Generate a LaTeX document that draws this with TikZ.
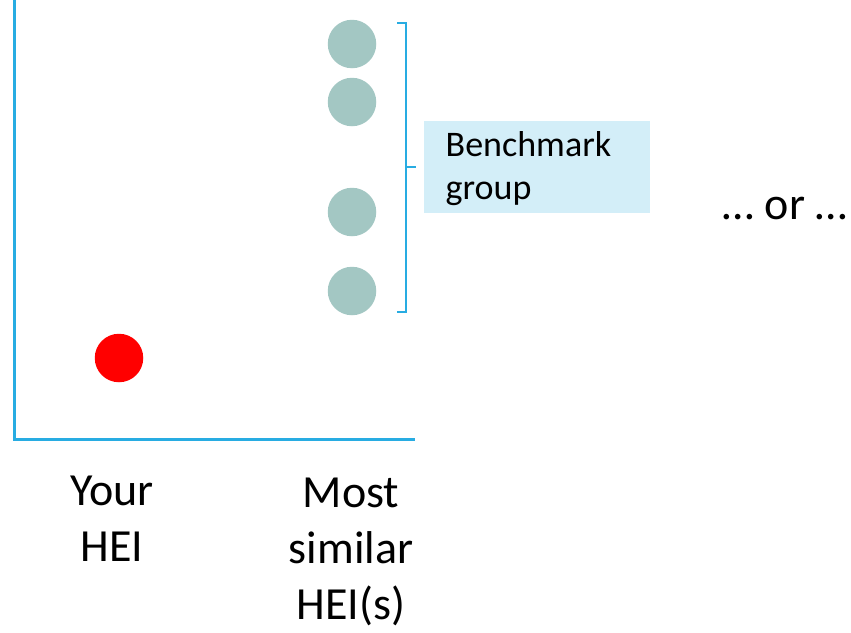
\documentclass[tikz,border=0pt]{standalone}
\usepackage{fontspec}
\setmainfont{Carlito}
\definecolor{axisblue}{RGB}{40,172,226}
\definecolor{peergrey}{RGB}{163,199,195}
\definecolor{boxfill}{RGB}{211,238,248}
\begin{document}
\begin{tikzpicture}[x=1pt,y=-1pt,
  dot/.style={circle,inner sep=0pt,minimum size=48.5pt},
  peer/.style={dot,fill=peergrey},
  axisline/.style={axisblue,line width=3pt},
  bracket/.style={axisblue,line width=2.3pt},
  biglabel/.style={align=center,inner sep=0pt,anchor=north,font=\fontsize{46}{56}\selectfont}]
\useasboundingbox (0,0) rectangle (851,632);
% axes
\coordinate (top) at (14.5,0);
\coordinate (origin) at (14.5,439);
\coordinate (xend) at (415,439);
\draw[axisline] (top) -- (origin) -- (xend);
% own institution
\node[dot,fill=red] (own) at (119,358) {};
% most similar institutions
\node[peer] (p1) at (352,44) {};
\node[peer] (p2) at (352,102) {};
\node[peer] (p3) at (352,212) {};
\node[peer] (p4) at (352,291) {};
% bracket over the peer group
\coordinate (bt) at (397,23);
\coordinate (bb) at (397,312);
\coordinate (bm) at (406,167);
\coordinate (btip) at (416,167);
\draw[bracket] (bt) -- (406,23) -- (406,312) -- (bb);
\draw[bracket] (bm) -- (btip);
% label box and its text
\node[fill=boxfill,minimum width=226pt,minimum height=91.5pt,inner sep=0pt] (bench) at (537,166.75) {};
\node[inner sep=0pt,anchor=north west,align=left,
      font=\fontsize{36}{42.7}\selectfont] (benchtext) at (445.5,131.5) {Benchmark\\group};
% alternative marker
\node[font=\fontsize{46}{56}\selectfont,inner sep=0pt,anchor=base] (alt) at (785,219) {… or …};
% axis labels
\node[biglabel] (lbl1) at (112,475.5) {Your\\HEI};
\node[biglabel] (lbl2) at (351,478) {Most\\similar\\HEI(s)};
\end{tikzpicture}
\end{document}
